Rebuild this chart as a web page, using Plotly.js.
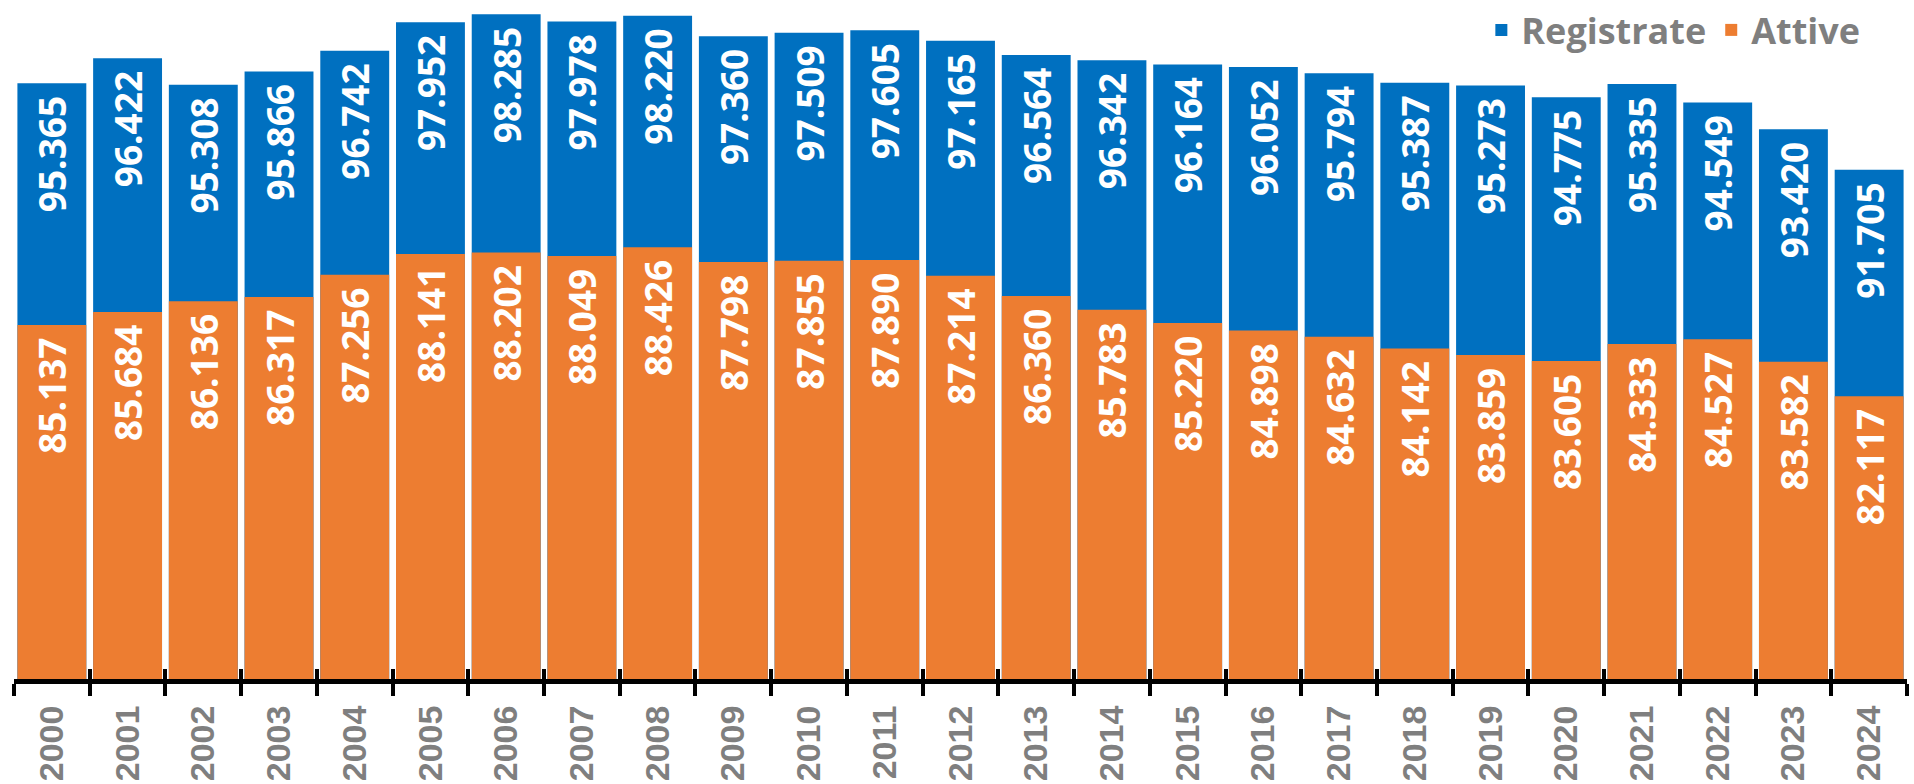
<!DOCTYPE html>
<html>
<head>
<meta charset="utf-8">
<script src="https://cdn.plot.ly/plotly-3.0.1.min.js"></script>
<style>
  html, body { margin: 0; padding: 0; background: #ffffff; }
  #chart { width: 1914px; height: 784px; }
</style>
</head>
<body>
<div id="chart"></div>
<script>
const years = ['2000','2001','2002','2003','2004','2005','2006','2007','2008','2009','2010','2011','2012','2013','2014','2015','2016','2017','2018','2019','2020','2021','2022','2023','2024'];
const registrate = [95365, 96422, 95308, 95866, 96742, 97952, 98285, 97978, 98220, 97360, 97509, 97605, 97165, 96564, 96342, 96164, 96052, 95794, 95387, 95273, 94775, 95335, 94549, 93420, 91705];
const attive = [85137, 85684, 86136, 86317, 87256, 88141, 88202, 88049, 88426, 87798, 87855, 87890, 87214, 86360, 85783, 85220, 84898, 84632, 84142, 83859, 83605, 84333, 84527, 83582, 82117];

function fmt(v) {
  return String(v).replace(/\B(?=(\d{3})+(?!\d))/g, '.') + '\u00a0';
}

const BLUE = '#0070C0';
const ORANGE = '#ED7D31';
const GREY = '#7F7F7F';
const labelFont = { family: 'Open Sans, sans-serif', size: 37, color: '#ffffff', weight: 'bold' };

const traces = [
  {
    type: 'bar', name: 'Registrate', x: years, y: registrate,
    marker: { color: BLUE },
    text: registrate.map(fmt), textposition: 'inside', insidetextanchor: 'end',
    textangle: -90, insidetextfont: labelFont, textfont: labelFont,
    hoverinfo: 'x+y'
  },
  {
    type: 'bar', name: 'Attive', x: years, y: attive,
    marker: { color: ORANGE },
    text: attive.map(fmt), textposition: 'inside', insidetextanchor: 'end',
    textangle: -90, insidetextfont: labelFont, textfont: labelFont,
    hoverinfo: 'x+y'
  },
  {
    type: 'bar', x: years, y: registrate, xaxis: 'x2',
    marker: { color: 'rgba(0,0,0,0)' }, showlegend: false, hoverinfo: 'skip'
  }
];

const layout = {
  width: 1914, height: 784,
  margin: { l: 14, r: 7, t: 0, b: 105 },
  paper_bgcolor: '#ffffff', plot_bgcolor: '#ffffff',
  barmode: 'overlay', bargap: 0.09,
  showlegend: true,
  legend: {
    orientation: 'h', x: 0.978, xanchor: 'right', y: 1.005, yanchor: 'top',
    font: { family: 'Open Sans, sans-serif', size: 36, color: GREY, weight: 'bold' },
    bgcolor: 'rgba(255,255,255,0)'
  },
  xaxis: {
    type: 'category', showline: true, linecolor: '#000000', linewidth: 5,
    ticks: 'outside', tickson: 'boundaries', ticklen: 12, tickwidth: 4, tickcolor: '#000000',
    tickangle: -90, ticklabelstandoff: 8,
    tickfont: { family: 'Liberation Sans, Arial, sans-serif', size: 34, color: GREY, weight: 'bold' },
    showgrid: false, zeroline: false, fixedrange: true
  },
  xaxis2: {
    type: 'category', overlaying: 'x', matches: 'x', anchor: 'y', side: 'bottom',
    ticks: 'inside', tickson: 'boundaries', ticklen: 10, tickwidth: 4, tickcolor: '#000000',
    showticklabels: false, showline: false, showgrid: false, zeroline: false
  },
  yaxis: {
    range: [70150, 98763], visible: false, showgrid: false, zeroline: false, fixedrange: true
  }
};

Plotly.newPlot('chart', traces, layout, { displayModeBar: false, staticPlot: true });
</script>
</body>
</html>
